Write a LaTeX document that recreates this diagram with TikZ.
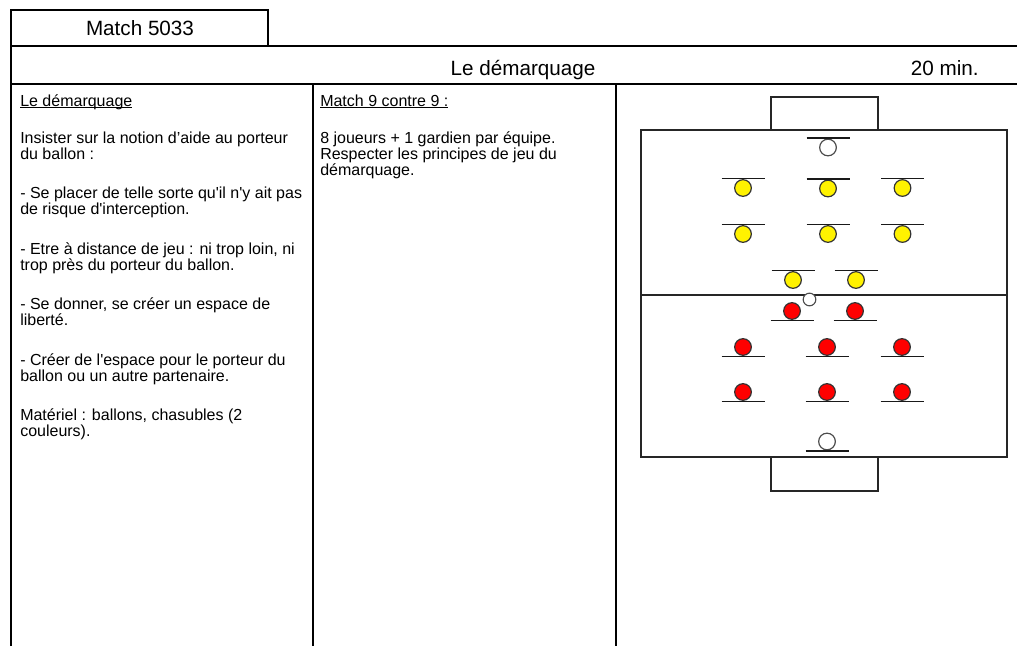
\documentclass[tikz,border=0pt]{standalone}
\usepackage{fontspec}
\setmainfont{Liberation Sans}
\newsavebox\ulbox
\newcommand\ulin[1]{\sbox\ulbox{#1}\rlap{\rule[-1.7pt]{\wd\ulbox}{0.7pt}}\usebox\ulbox}
\newcommand\yq{\textquotesingle}
\tikzset{
  frame/.style={line width=1.6pt, draw=black},
  divider/.style={line width=2.2pt, draw=black},
  pitchline/.style={draw=black!85, line width=1.1pt},
  bar/.style={draw=black!90, line width=1.2pt},
  player/.style={circle, line width=0.9pt, minimum size=12.5pt, inner sep=0pt},
  yp/.style={player, draw=black!80, fill=yellow},
  rp/.style={player, draw=black!80, fill=red},
  wp/.style={player, draw=black!70, fill=white},
  ballst/.style={circle, draw=black!70, fill=white, line width=0.85pt, minimum size=9.5pt, inner sep=0pt},
  txt/.style={anchor=base west, inner sep=0pt, font=\fontsize{12}{12}\selectfont},
  head/.style={anchor=base, inner sep=0pt, font=\fontsize{15.5}{15.5}\selectfont},
}
\newcommand\topplayer[4]{\node[#4] (#1) at (#2,#3) {}; \draw[bar] (#1.north) ++(-21.5,-0.5) -- ++(43,0);}
\newcommand\botplayer[4]{\node[#4] (#1) at (#2,#3) {}; \draw[bar] (#1.south) ++(-21.5,0.5) -- ++(43,0);}
\begin{document}
\begin{tikzpicture}[x=0.75pt,y=-0.75pt]
\useasboundingbox (0,0) rectangle (1017,646);
% frame
\draw[frame] (11,646) -- (11,10) -- (268,10) -- (268,46);
\draw[frame] (11,46) -- (1017,46);
\draw[frame] (11,84) -- (1017,84);
\draw[divider] (313,84) -- (313,646);
\draw[divider] (616,84) -- (616,646);
% header texts
\node[head] (match) at (140,36) {Match 5033};
\node[head] (title) at (523,75) {Le démarquage};
\node[head, anchor=base east] (dur) at (979,75) {20 min.};
% left column
\node[txt] (l0) at (20,106) {\ulin{Le démarquage}};
\node[txt] (l1) at (20,143) {Insister sur la notion d’aide au porteur};
\node[txt] (l2) at (20,159) {du ballon :};
\node[txt] (l3) at (20,198.5) {- Se placer de telle sorte qu\yq il n\yq y ait pas};
\node[txt] (l4) at (20,214.5) {de risque d\yq interception.};
\node[txt] (l5) at (20,254) {- Etre à distance de jeu : ni trop loin, ni};
\node[txt] (l6) at (20,270) {trop près du porteur du ballon.};
\node[txt] (l7) at (20,309.5) {- Se donner, se créer un espace de};
\node[txt] (l8) at (20,325.5) {liberté.};
\node[txt] (l9) at (20,365) {- Créer de l\yq espace pour le porteur du};
\node[txt] (l10) at (20,381) {ballon ou un autre partenaire.};
\node[txt] (l11) at (20,420.5) {Matériel : ballons, chasubles (2};
\node[txt] (l12) at (20,436.5) {couleurs).};
% middle column
\node[txt] (m0) at (320,106) {\ulin{Match 9 contre 9 :}};
\node[txt] (m1) at (320,143) {8 joueurs + 1 gardien par équipe.};
\node[txt] (m2) at (320,159) {Respecter les principes de jeu du};
\node[txt] (m3) at (320,175) {démarquage.};
% pitch
\draw[pitchline] (641,130) rectangle (1007,457);
\draw[pitchline] (641,295) -- (1007,295);
\draw[pitchline] (771,130) -- (771,97) -- (878,97) -- (878,130);
\draw[pitchline] (771,457) -- (771,491) -- (878,491) -- (878,457);
% yellow team (bar above)
\topplayer{ygk}{828}{147.5}{wp}
\topplayer{y1}{743}{188}{yp}
\topplayer{y2}{828}{188.5}{yp}
\topplayer{y3}{902.5}{188}{yp}
\topplayer{y4}{743}{234}{yp}
\topplayer{y5}{828}{234}{yp}
\topplayer{y6}{902.5}{234}{yp}
\topplayer{y7}{793}{280}{yp}
\topplayer{y8}{856}{280}{yp}
% red team (bar below)
\botplayer{r1}{792}{311}{rp}
\botplayer{r2}{855}{311}{rp}
\botplayer{r3}{743}{347}{rp}
\botplayer{r4}{827}{347}{rp}
\botplayer{r5}{902}{347}{rp}
\botplayer{r6}{743}{392}{rp}
\botplayer{r7}{827}{392}{rp}
\botplayer{r8}{902}{392}{rp}
\botplayer{rgk}{827}{441.5}{wp}
% ball
\node[ballst] (ball) at (809.5,299.5) {};
\end{tikzpicture}
\end{document}
